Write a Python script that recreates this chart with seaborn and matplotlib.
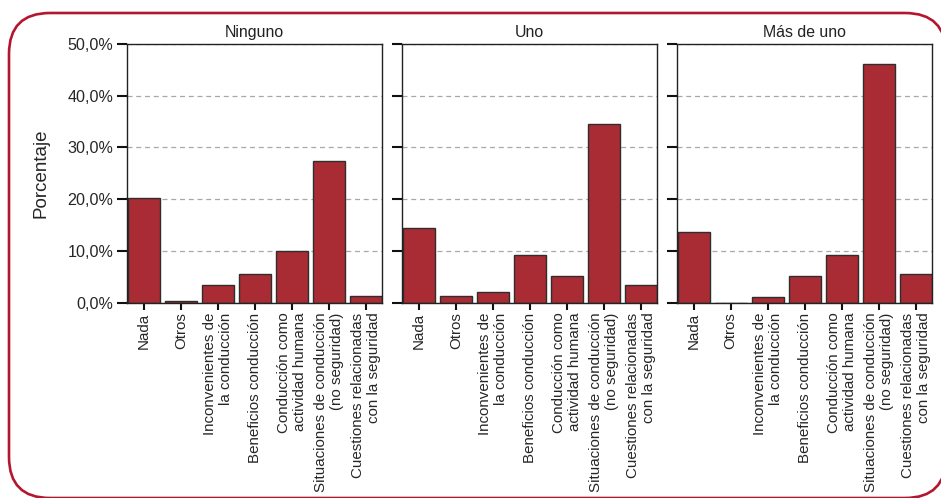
import pandas as pd
import matplotlib.pyplot as plt
import seaborn as sns
from matplotlib.patches import FancyBboxPatch
from matplotlib.ticker import FuncFormatter

# categories and panel names
categorias = ['Nada', 'Otros', 'Inconvenientes de\nla conducción', 'Beneficios conducción',
              'Conducción como\nactividad humana', 'Situaciones de conducción\n(no seguridad)',
              'Cuestiones relacionadas\ncon la seguridad']
paneles = ['Ninguno', 'Uno', 'Más de uno']

# porcentajes por panel
ninguno = [20.2, 0.3, 3.5, 5.5, 10.0, 27.4, 1.4]
uno = [14.4, 1.4, 2.0, 9.2, 5.2, 34.5, 3.4]
mas_de_uno = [13.7, 0.0, 1.1, 5.2, 9.3, 46.2, 5.5]

df = pd.DataFrame({
    'categoria': categorias * 3,
    'panel': [p for p in paneles for _ in categorias],
    'valor': ninguno + uno + mas_de_uno,
})

sns.set_style('ticks')
plt.rcParams['font.family'] = ['Liberation Sans', 'DejaVu Sans']
plt.rcParams['text.color'] = '#222222'

fig, axes = plt.subplots(1, 3, figsize=(9.41, 4.98), dpi=100, sharey=True)
fig.subplots_adjust(left=0.135, right=0.990, top=0.912, bottom=0.392, wspace=0.078)

for ax, panel in zip(axes, paneles):
    sub = df[df['panel'] == panel]
    sns.barplot(data=sub, x='categoria', y='valor', color='#a92b33', saturation=1,
                edgecolor='#2e2e2e', linewidth=1.0, width=0.87, ax=ax)
    ax.set_title(panel, fontsize=11.4, pad=5)
    ax.set_xlabel('')
    ax.set_ylabel('')
    ax.set_ylim(0, 50)
    ax.set_xlim(-0.46, 6.43)
    ax.set_yticks([0, 10, 20, 30, 40, 50])
    ax.set_axisbelow(True)
    ax.yaxis.grid(True, color='#a8a8a8', linestyle=(0, (4, 3)), linewidth=0.9)
    for s in ax.spines.values():
        s.set_visible(True)
        s.set_color('#222222')
        s.set_linewidth(1.0)
    ax.tick_params(axis='y', length=7, width=1.5, color='#111111', labelsize=11.6, pad=3)
    ax.tick_params(axis='x', length=5, width=1.5, color='#111111', labelsize=10.9,
                   labelrotation=90, pad=2)
    for lbl in ax.get_xticklabels():
        lbl.set_multialignment('right')

axes[0].yaxis.set_major_formatter(FuncFormatter(lambda v, p: f'{v:.1f}%'.replace('.', ',')))
axes[0].set_ylabel('Porcentaje', fontsize=13.5, labelpad=13)
for ax in axes[1:]:
    ax.tick_params(axis='y', labelleft=False)

# marco redondeado (en pulgadas, esquinas circulares); relleno blanco detras de todo
# para que agg no recorte la curva contra el borde del lienzo
marco = FancyBboxPatch((0.09, 0.0), 9.37, 4.85, boxstyle='round,pad=0,rounding_size=0.41',
                       transform=fig.dpi_scale_trans, facecolor='white',
                       edgecolor='#b3162e', linewidth=1.9, zorder=-5)
fig.add_artist(marco)

fig.savefig('out.png', dpi=100)
